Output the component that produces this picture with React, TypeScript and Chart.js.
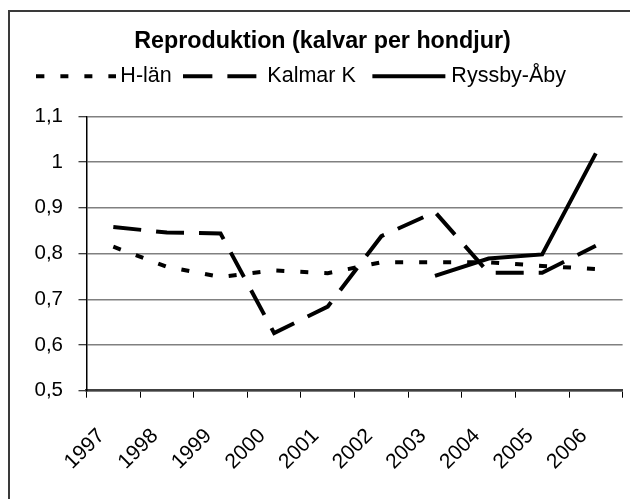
import React, { useEffect, useRef } from "react";
import { Chart, registerables } from "chart.js";

Chart.register(...registerables);

// ---- data ----
const years = ["1997", "1998", "1999", "2000", "2001", "2002", "2003", "2004", "2005", "2006"];
const hLan = [0.815, 0.771, 0.749, 0.763, 0.757, 0.781, 0.781, 0.781, 0.773, 0.766];
const kalmarK = [0.858, 0.846, 0.844, 0.626, 0.684, 0.838, 0.891, 0.758, 0.758, 0.817];
const ryssbyAby = [null, null, null, null, null, null, 0.751, 0.789, 0.798, 1.019];
const seriesNames = ["H-län", "Kalmar K", "Ryssby-Åby"];
const titleText = "Reproduktion (kalvar per hondjur)";
const yMin = 0.5;
const yMax = 1.1;
const yStep = 0.1;

const FONT = "'Liberation Sans', Arial, Helvetica, sans-serif";
const dashes: number[][] = [[8, 16], [28, 15], []];

function makeSample(i: number): HTMLCanvasElement {
  const c = document.createElement("canvas");
  c.width = 80;
  c.height = 6;
  const ctx = c.getContext("2d")!;
  ctx.strokeStyle = "#000";
  ctx.lineWidth = 4;
  ctx.lineCap = "butt";
  ctx.setLineDash(i === 1 ? [29, 15] : dashes[i]);
  ctx.beginPath();
  if (i === 2) {
    ctx.moveTo(5, 3);
    ctx.lineTo(78, 3);
  } else {
    ctx.moveTo(0, 3);
    ctx.lineTo(80, 3);
  }
  ctx.stroke();
  return c;
}

const framePlugin = {
  id: "frame",
  afterDraw(chart: any) {
    const ctx = chart.ctx;
    ctx.save();
    ctx.strokeStyle = "#3a3a3a";
    ctx.lineWidth = 2;
    ctx.strokeRect(9, 11, 700, 700);
    ctx.restore();
  },
};

export default function App() {
  const ref = useRef<HTMLCanvasElement | null>(null);

  useEffect(() => {
    if (!ref.current) return;
    const samples = [0, 1, 2].map(makeSample);
    const series = [hLan, kalmarK, ryssbyAby];
    const chart = new Chart(ref.current, {
      type: "line",
      data: {
        labels: years,
        datasets: series.map((d, i) => ({
          label: seriesNames[i],
          data: d,
          borderColor: "#000",
          backgroundColor: "#000",
          borderWidth: 4,
          borderDash: dashes[i],
          borderCapStyle: "butt",
          borderJoinStyle: "miter",
          pointRadius: 0,
          pointHoverRadius: 0,
          tension: 0,
          spanGaps: false,
        })),
      },
      options: {
        responsive: false,
        animation: false,
        events: [],
        layout: { padding: { left: 12.5, right: 7.5, top: 0, bottom: 0 } },
        plugins: {
          tooltip: { enabled: false },
          title: {
            display: true,
            text: titleText,
            color: "#000",
            font: { family: FONT, size: 23.3, weight: "bold", lineHeight: 0.5 },
            padding: { top: 35.5, bottom: 0 },
          },
          legend: {
            display: true,
            position: "top",
            align: "center",
            labels: {
              usePointStyle: true,
              pointStyleWidth: 66.5,
              padding: 18.35,
              color: "#000",
              font: { family: FONT, size: 21.5 },
              generateLabels: () =>
                seriesNames.map((name, i) => ({
                  text: i === 2 ? name + "      " : name,
                  fillStyle: "rgba(0,0,0,0)",
                  strokeStyle: "rgba(0,0,0,0)",
                  lineWidth: 0,
                  pointStyle: samples[i],
                  hidden: false,
                  datasetIndex: i,
                  fontColor: "#000",
                })),
            },
          },
          subtitle: {
            display: true,
            text: "",
            weight: 500,
            padding: { top: 0, bottom: 0 },
            font: { family: FONT, size: 19.4, lineHeight: 1 },
          },
        },
        scales: {
          x: {
            type: "category",
            offset: true,
            afterFit: (s: any) => {
              s.height = 499 - 390.7;
            },
            grid: {
              offset: true,
              drawOnChartArea: false,
              drawTicks: true,
              tickLength: 7,
              tickColor: "#000",
              tickWidth: 1,
            },
            border: { display: true, color: "#404040", width: 2.5 },
            ticks: {
              minRotation: 45,
              maxRotation: 45,
              autoSkip: false,
              color: "#000",
              padding: 26,
              labelOffset: -12,
              font: { family: FONT, size: 21 },
            },
          },
          y: {
            type: "linear",
            min: yMin,
            max: yMax,
            afterFit: (s: any) => {
              s.width = 74;
            },
            grid: {
              color: "#808080",
              lineWidth: 1.5,
              drawTicks: true,
              tickLength: 8,
              tickColor: "#000",
              tickWidth: 1,
            },
            border: { display: true, color: "#000", width: 1.5 },
            ticks: {
              stepSize: yStep,
              color: "#000",
              padding: 15.5,
              font: { family: FONT, size: 20.5 },
              callback: (v: any) => String(Math.round(Number(v) * 10) / 10).replace(".", ","),
            },
          },
        },
      },
      plugins: [framePlugin],
    } as any);
    return () => chart.destroy();
  }, []);

  return (
    <div
      style={{
        position: "fixed",
        left: 0,
        top: 0,
        width: 630,
        height: 499,
        overflow: "hidden",
        background: "#fff",
      }}
    >
      <canvas ref={ref} width={640} height={499} style={{ display: "block" }} />
    </div>
  );
}
